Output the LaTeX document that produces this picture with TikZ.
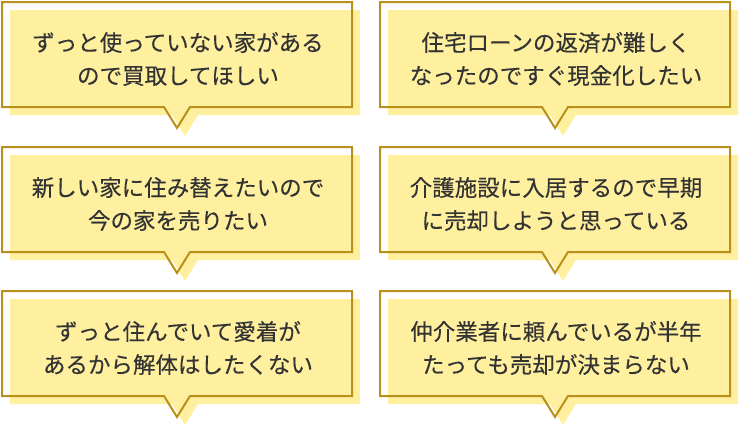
\documentclass[tikz,border=0pt]{standalone}
\usepackage{fontspec}
\newfontfamily\cjk[FakeBold=0.25]{Noto Sans CJK JP}
\definecolor{fillY}{HTML}{FFF0A0}
\definecolor{edgeB}{HTML}{B8901A}
\definecolor{txt}{HTML}{333333}
\tikzset{txtnode/.style={font=\cjk\fontsize{22.5}{33}\selectfont,text=txt,align=center}}
\newcommand{\bubble}[4]{%
  \fill[fillY] (#1+8,#2+8) -- (#1+358,#2+8) -- (#1+358,#2+113) -- (#1+196,#2+113) -- (#1+183,#2+134) -- (#1+170,#2+113) -- (#1+8,#2+113) -- cycle;
  \draw[edgeB,line width=2pt,line join=miter] (#1,#2) -- (#1+350,#2) -- (#1+350,#2+105) -- (#1+188,#2+105) -- (#1+175,#2+126) -- (#1+162,#2+105) -- (#1,#2+105) -- cycle;
  \node[txtnode] (#3) at (#1+176,#2+57) {#4};}
\begin{document}
\begin{tikzpicture}[x=1pt,y=-1pt]
\useasboundingbox (0,0) rectangle (741,426);
\bubble{2}{2}{a}{ずっと使っていない家がある\\ので買取してほしい}
\bubble{380}{2}{b}{住宅ローンの返済が難しく\\なったのですぐ現金化したい}
\bubble{2}{147}{c}{新しい家に住み替えたいので\\今の家を売りたい}
\bubble{380}{147}{d}{介護施設に入居するので早期\\に売却しようと思っている}
\bubble{2}{291}{e}{ずっと住んでいて愛着が\\あるから解体はしたくない}
\bubble{380}{291}{f}{仲介業者に頼んでいるが半年\\たっても売却が決まらない}
\end{tikzpicture}
\end{document}
